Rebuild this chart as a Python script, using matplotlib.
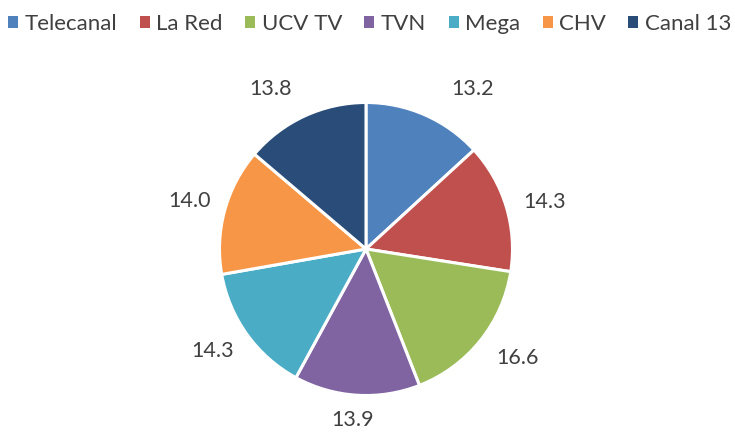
import numpy as np
import matplotlib.pyplot as plt
from matplotlib.patches import Patch

channels = ['Telecanal', 'La Red', 'UCV TV', 'TVN', 'Mega', 'CHV', 'Canal 13']
values = [13.2, 14.3, 16.6, 13.9, 14.3, 14.0, 13.8]
colors = ['#4F81BD', '#C0504D', '#9BBB59', '#8064A2', '#4BACC6', '#F79646', '#294C79']

plt.rcParams['font.family'] = ['Lato', 'DejaVu Sans']
text_color = '#404040'

fig = plt.figure(figsize=(7.35, 4.32), dpi=100)
ax = fig.add_axes([0, 0, 1, 1])

cx, cy, r = 366, 183, 146.5
wedges, texts = ax.pie(values, colors=colors, startangle=90, counterclock=False,
                       center=(cx, cy), radius=r,
                       labels=[f'{v:.1f}' for v in values], labeldistance=1.27,
                       wedgeprops=dict(edgecolor='white', linewidth=2.2),
                       textprops=dict(fontsize=15.5, color=text_color))

# excel "best fit" label placement: small per-label tweaks (distance, angle shift)
label_dist = [1.31, 1.26, 1.27, 1.17, 1.26, 1.25, 1.27]
label_shift = [-10, -2, 3, -1, -2, 0, 6]
for t, w, d, s in zip(texts, wedges, label_dist, label_shift):
    ang = np.deg2rad((w.theta1 + w.theta2) / 2 + s)
    t.set_position((cx + d * r * np.cos(ang), cy + d * r * np.sin(ang)))
    t.set_horizontalalignment('center')
    t.set_verticalalignment('center')

# pie() resets the limits, so set them afterwards
ax.set_xlim(0, 735)
ax.set_ylim(0, 432)
ax.set_aspect('equal')
ax.axis('off')

handles = [Patch(facecolor=c, edgecolor='none') for c in colors]
fig.legend(handles, channels, loc='upper center', bbox_to_anchor=(0.503, 0.993),
           ncol=7, frameon=False, fontsize=16, labelcolor=text_color,
           handlelength=0.45, handleheight=0.45, handletextpad=0.3,
           columnspacing=1.0, borderaxespad=0.1)

fig.savefig('out.png', dpi=100)
